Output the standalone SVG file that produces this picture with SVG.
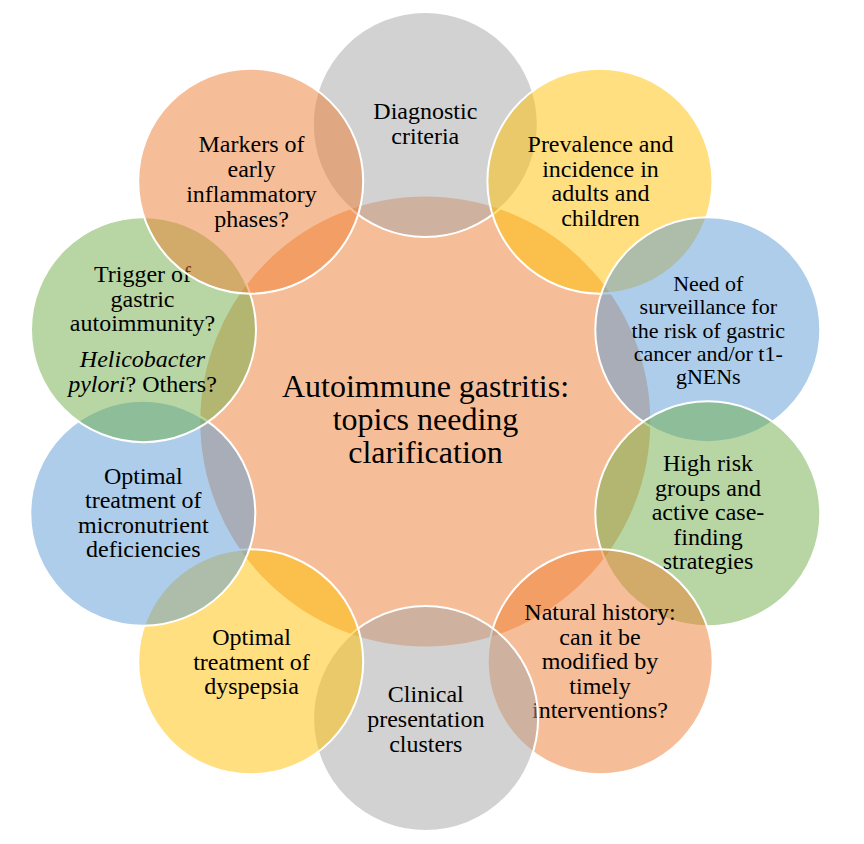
<svg xmlns="http://www.w3.org/2000/svg" width="864" height="844" viewBox="0 0 864 844">
<style>
.c{stroke:#fff;stroke-width:2;fill-opacity:0.5}
.gray{fill:#A5A5A5}.gold{fill:#FFC000}.blue{fill:#5B9BD5}.green{fill:#70AD47}.orange{fill:#ED7D31}
.t{font-family:"Liberation Serif","Times New Roman",serif;font-size:24px;fill:#000;text-anchor:middle}
.s{font-size:22px}
.big{font-size:32px}
.i{font-style:italic}
</style>
<rect width="864" height="844" fill="#fff"/>
<g id="center">
<circle class="c orange" cx="425.3" cy="421.5" r="226"/>
<text class="t big"><tspan x="425.5" y="396.7">Autoimmune gastritis:</tspan><tspan x="425.5" y="430">topics needing</tspan><tspan x="425.5" y="463.3">clarification</tspan></text>
</g>
<g id="diagnostic">
<circle class="c gray" cx="425.3" cy="124.5" r="112.5"/>
<text class="t"><tspan x="425.3" y="119">Diagnostic</tspan><tspan x="425.3" y="144">criteria</tspan></text>
</g>
<g id="prevalence">
<circle class="c gold" cx="599.9" cy="181.2" r="112.5"/>
<text class="t"><tspan x="600.5" y="152">Prevalence and</tspan><tspan x="600.5" y="176.5">incidence in</tspan><tspan x="600.5" y="201">adults and</tspan><tspan x="600.5" y="225.5">children</tspan></text>
</g>
<g id="surveillance">
<circle class="c blue" cx="707.8" cy="329.7" r="112.5"/>
<text class="t s"><tspan x="708.3" y="291">Need of</tspan><tspan x="708.3" y="314">surveillance for</tspan><tspan x="708.3" y="337.5">the risk of gastric</tspan><tspan x="708.3" y="360.5">cancer and/or t1-</tspan><tspan x="708.3" y="383.5">gNENs</tspan></text>
</g>
<g id="highrisk">
<circle class="c green" cx="707.8" cy="513.8" r="112.5"/>
<text class="t"><tspan x="708" y="471">High risk</tspan><tspan x="708" y="495.5">groups and</tspan><tspan x="708" y="520">active case-</tspan><tspan x="708" y="544.5">finding</tspan><tspan x="708" y="569">strategies</tspan></text>
</g>
<g id="naturalhistory">
<circle class="c orange" cx="600.2" cy="661.8" r="112.5"/>
<text class="t"><tspan x="600" y="620">Natural history:</tspan><tspan x="600" y="644.5">can it be</tspan><tspan x="600" y="669">modified by</tspan><tspan x="600" y="693.5">timely</tspan><tspan x="600" y="718">interventions?</tspan></text>
</g>
<g id="clinical">
<circle class="c gray" cx="425.6" cy="718.5" r="112.5"/>
<text class="t"><tspan x="425.8" y="702">Clinical</tspan><tspan x="425.8" y="726.5">presentation</tspan><tspan x="425.8" y="751.5">clusters</tspan></text>
</g>
<g id="dyspepsia">
<circle class="c gold" cx="250.7" cy="661.8" r="112.5"/>
<text class="t"><tspan x="251.5" y="645">Optimal</tspan><tspan x="251.5" y="670">treatment of</tspan><tspan x="251.5" y="694">dyspepsia</tspan></text>
</g>
<g id="micronutrient">
<circle class="c blue" cx="142.8" cy="513.3" r="112.5"/>
<text class="t"><tspan x="143.3" y="483.5">Optimal</tspan><tspan x="143.3" y="508">treatment of</tspan><tspan x="143.3" y="532.5">micronutrient</tspan><tspan x="143.3" y="557">deficiencies</tspan></text>
</g>
<g id="trigger">
<circle class="c green" cx="143.5" cy="329.7" r="112.5"/>
<text class="t"><tspan x="142.5" y="281.7">Trigger of</tspan><tspan x="142.5" y="306.7">gastric</tspan><tspan x="142.5" y="331">autoimmunity?</tspan><tspan x="142.5" y="366.7" class="i">Helicobacter</tspan><tspan x="142.5" y="391.7"><tspan class="i">pylori</tspan>? Others?</tspan></text>
</g>
<g id="markers">
<circle class="c orange" cx="250.7" cy="181.2" r="112.5"/>
<text class="t"><tspan x="251.5" y="151.7">Markers of</tspan><tspan x="251.5" y="176.7">early</tspan><tspan x="251.5" y="201.7">inflammatory</tspan><tspan x="251.5" y="226.7">phases?</tspan></text>
</g>
<g id="connectors"/>
</svg>
